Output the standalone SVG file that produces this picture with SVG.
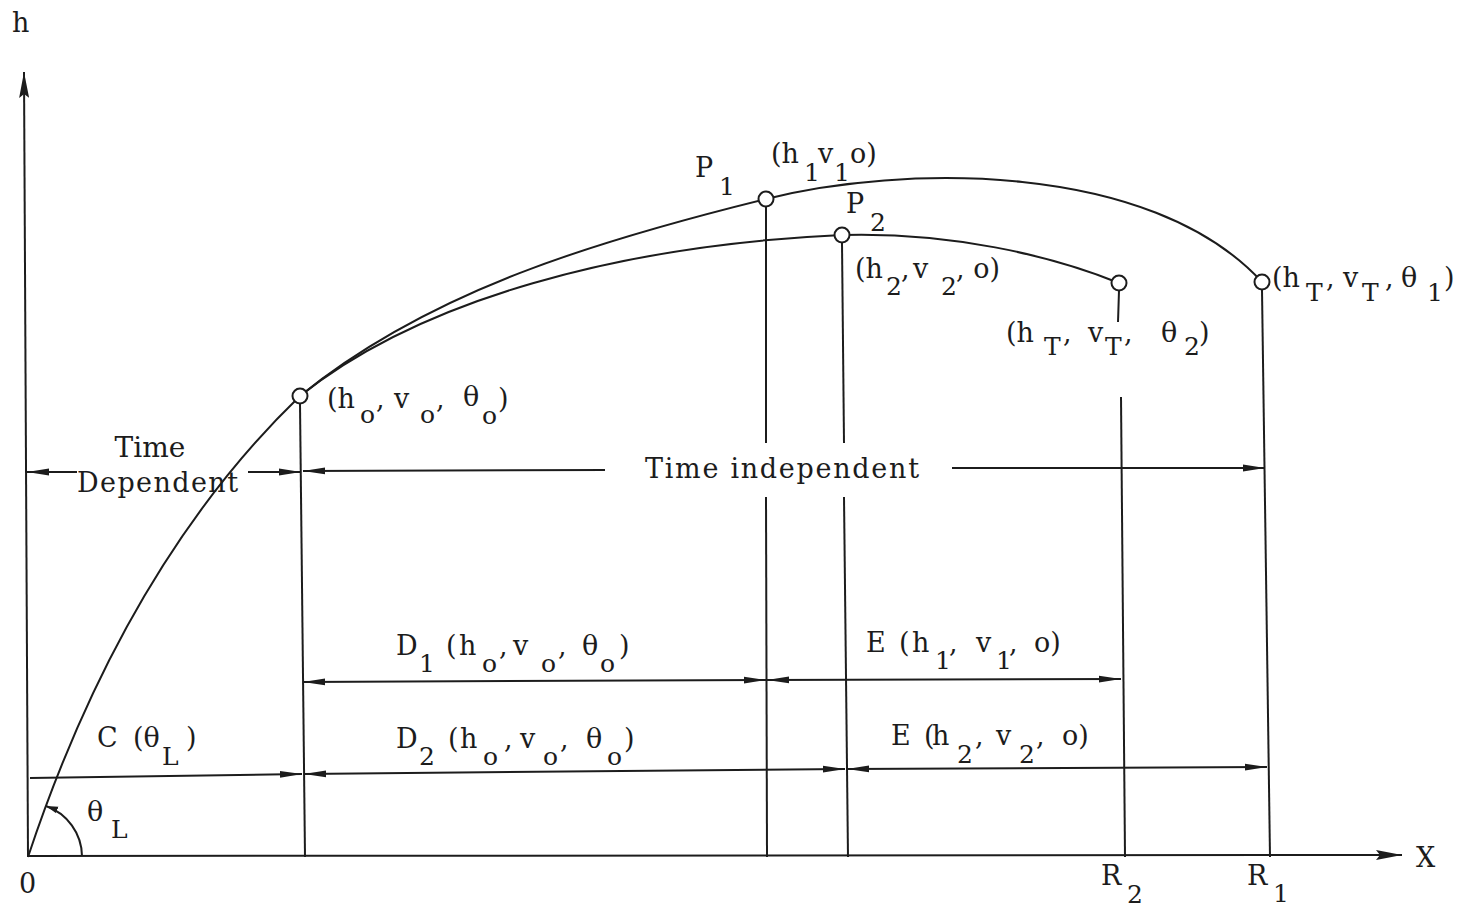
<svg xmlns="http://www.w3.org/2000/svg" width="1469" height="910" viewBox="0 0 1469 910">
<style>
.ln{stroke:#1c1c1c;stroke-width:2;fill:none}
.pt{stroke:#1c1c1c;stroke-width:2;fill:#fff}
text{font-family:"DejaVu Serif","Liberation Serif",serif;font-size:27px;fill:#1c1c1c}
.sb{font-size:25px}
</style>
<defs>
<marker id="ar" markerUnits="userSpaceOnUse" viewBox="0 0 22 8" markerWidth="22" markerHeight="8" refX="22" refY="4" orient="auto-start-reverse">
<path d="M0,0.6 L22,4 L0,7.4 Z" fill="#1c1c1c"/>
</marker>
<marker id="ax" markerUnits="userSpaceOnUse" viewBox="0 0 26 10" markerWidth="26" markerHeight="10" refX="26" refY="5" orient="auto">
<path d="M0,0 L26,5 L0,10 L4,5 Z" fill="#1c1c1c"/>
</marker>
<marker id="sm" markerUnits="userSpaceOnUse" viewBox="0 0 12 8" markerWidth="12" markerHeight="8" refX="12" refY="4" orient="auto">
<path d="M0,0.5 L12,4 L0,7.5 Z" fill="#1c1c1c"/>
</marker>
</defs>
<rect width="1469" height="910" fill="#fff"/>

<g id="axes">
<line class="ln" x1="28" y1="857" x2="24" y2="72" marker-end="url(#ax)"/>
<line class="ln" x1="28" y1="856" x2="1402" y2="855" marker-end="url(#ax)"/>
<path class="ln" d="M82,856 A54,54 0 0 0 46,806" marker-end="url(#sm)"/>
</g>

<g id="trajectories">
<path class="ln" d="M28,857 Q125,565 300,396"/>
<path class="ln" d="M300,396 C430,290 600,240 766,199 C900,165 1150,160 1262,282"/>
<path class="ln" d="M300,396 C420,300 620,245 842,235 C950,232 1050,255 1119,283"/>
</g>

<g id="verticals">
<line class="ln" x1="300" y1="404" x2="305" y2="857"/>
<line class="ln" x1="766" y1="206" x2="766" y2="443"/>
<line class="ln" x1="766" y1="497" x2="767" y2="857"/>
<line class="ln" x1="842" y1="243" x2="844" y2="443"/>
<line class="ln" x1="844" y1="497" x2="848" y2="857"/>
<line class="ln" x1="1119" y1="291" x2="1118" y2="322"/>
<line class="ln" x1="1121" y1="397" x2="1125" y2="857"/>
<line class="ln" x1="1262" y1="290" x2="1270" y2="857"/>
</g>

<g id="connectors">
<line class="ln" x1="77" y1="472" x2="27" y2="472" marker-end="url(#ar)"/>
<line class="ln" x1="248" y1="472" x2="301" y2="472" marker-end="url(#ar)"/>
<line class="ln" x1="605" y1="470" x2="303" y2="471" marker-end="url(#ar)"/>
<line class="ln" x1="952" y1="468" x2="1265" y2="468" marker-end="url(#ar)"/>
<line class="ln" x1="303" y1="682" x2="766" y2="680" marker-start="url(#ar)" marker-end="url(#ar)"/>
<line class="ln" x1="767" y1="680" x2="1121" y2="679" marker-start="url(#ar)" marker-end="url(#ar)"/>
<line class="ln" x1="30" y1="778" x2="302" y2="774" marker-end="url(#ar)"/>
<line class="ln" x1="304" y1="774" x2="845" y2="769" marker-start="url(#ar)" marker-end="url(#ar)"/>
<line class="ln" x1="847" y1="769" x2="1267" y2="767" marker-start="url(#ar)" marker-end="url(#ar)"/>
</g>

<g id="point-o"><circle class="pt" cx="300" cy="396" r="7.5"/></g>
<g id="point-P1"><circle class="pt" cx="766" cy="199" r="7.5"/></g>
<g id="point-P2"><circle class="pt" cx="842" cy="235" r="7.5"/></g>
<g id="point-T2"><circle class="pt" cx="1119" cy="283" r="7.5"/></g>
<g id="point-T1"><circle class="pt" cx="1262" cy="282" r="7.5"/></g>

<g id="labels">
<text x="12" y="32">h</text>
<text x="1416" y="867">X</text>
<text x="19" y="893">0</text>
<text x="1101" y="885">R</text><text class="sb" x="1127" y="903">2</text>
<text x="1247" y="885">R</text><text class="sb" x="1273" y="902">1</text>

<text x="695" y="177">P</text><text class="sb" x="719" y="195">1</text>
<text x="771" y="163">(h</text><text class="sb" x="804" y="181">1</text><text x="818" y="163">v</text><text class="sb" x="834" y="181">1</text><text x="850" y="163">o)</text>

<text x="846" y="213">P</text><text class="sb" x="870" y="231">2</text>
<text x="855" y="278">(h</text><text class="sb" x="886" y="295">2</text><text x="901" y="278">,</text><text x="913" y="278">v</text><text class="sb" x="941" y="295">2</text><text x="956" y="278">, o)</text>

<text x="1006" y="342">(h</text><text class="sb" x="1044" y="355">T</text><text x="1063" y="342">,</text><text x="1088" y="342">v</text><text class="sb" x="1105" y="355">T</text><text x="1124" y="342">,</text><text x="1161" y="342">θ</text><text class="sb" x="1184" y="355">2</text><text x="1199" y="342">)</text>

<text x="1272" y="287">(h</text><text class="sb" x="1306" y="301">T</text><text x="1326" y="287">,</text><text x="1343" y="287">v</text><text class="sb" x="1362" y="301">T</text><text x="1385" y="287">,</text><text x="1401" y="287">θ</text><text class="sb" x="1427" y="301">1</text><text x="1444" y="287">)</text>

<text x="327" y="408">(h</text><text class="sb" x="360" y="423">o</text><text x="376" y="408">,</text><text x="394" y="408">v</text><text class="sb" x="420" y="423">o</text><text x="436" y="408">,</text><text x="463" y="406">θ</text><text class="sb" x="482" y="424">o</text><text x="498" y="408">)</text>

<text x="150" y="457" text-anchor="middle" style="font-size:28px">Time</text>
<text x="77" y="492" textLength="161" lengthAdjust="spacing">Dependent</text>
<text x="645" y="478" textLength="274" lengthAdjust="spacing">Time independent</text>

<text x="396" y="655">D</text><text class="sb" x="419" y="672">1</text><text x="446" y="655">(</text><text x="459" y="655">h</text><text class="sb" x="482" y="672">o</text><text x="499" y="655">,</text><text x="513" y="655">v</text><text class="sb" x="541" y="672">o</text><text x="558" y="655">,</text><text x="582" y="655">θ</text><text class="sb" x="600" y="672">o</text><text x="619" y="655">)</text>

<text x="866" y="652">E</text><text x="899" y="652">(</text><text x="912" y="652">h</text><text class="sb" x="935" y="669">1</text><text x="949" y="652">,</text><text x="976" y="652">v</text><text class="sb" x="996" y="669">1</text><text x="1009" y="652">,</text><text x="1034" y="652">o)</text>

<text x="97" y="747">C</text><text x="133" y="747">(θ</text><text class="sb" x="162" y="765">L</text><text x="186" y="747">)</text>

<text x="396" y="748">D</text><text class="sb" x="419" y="765">2</text><text x="448" y="748">(</text><text x="460" y="748">h</text><text class="sb" x="483" y="765">o</text><text x="504" y="748">,</text><text x="520" y="748">v</text><text class="sb" x="543" y="765">o</text><text x="560" y="748">,</text><text x="586" y="748">θ</text><text class="sb" x="607" y="765">o</text><text x="624" y="748">)</text>

<text x="891" y="745">E</text><text x="924" y="745">(</text><text x="932" y="745">h</text><text class="sb" x="957" y="763">2</text><text x="975" y="745">,</text><text x="996" y="745">v</text><text class="sb" x="1019" y="763">2</text><text x="1036" y="745">,</text><text x="1062" y="745">o)</text>

<text x="87" y="821">θ</text><text class="sb" x="111" y="838">L</text>
</g>
</svg>
